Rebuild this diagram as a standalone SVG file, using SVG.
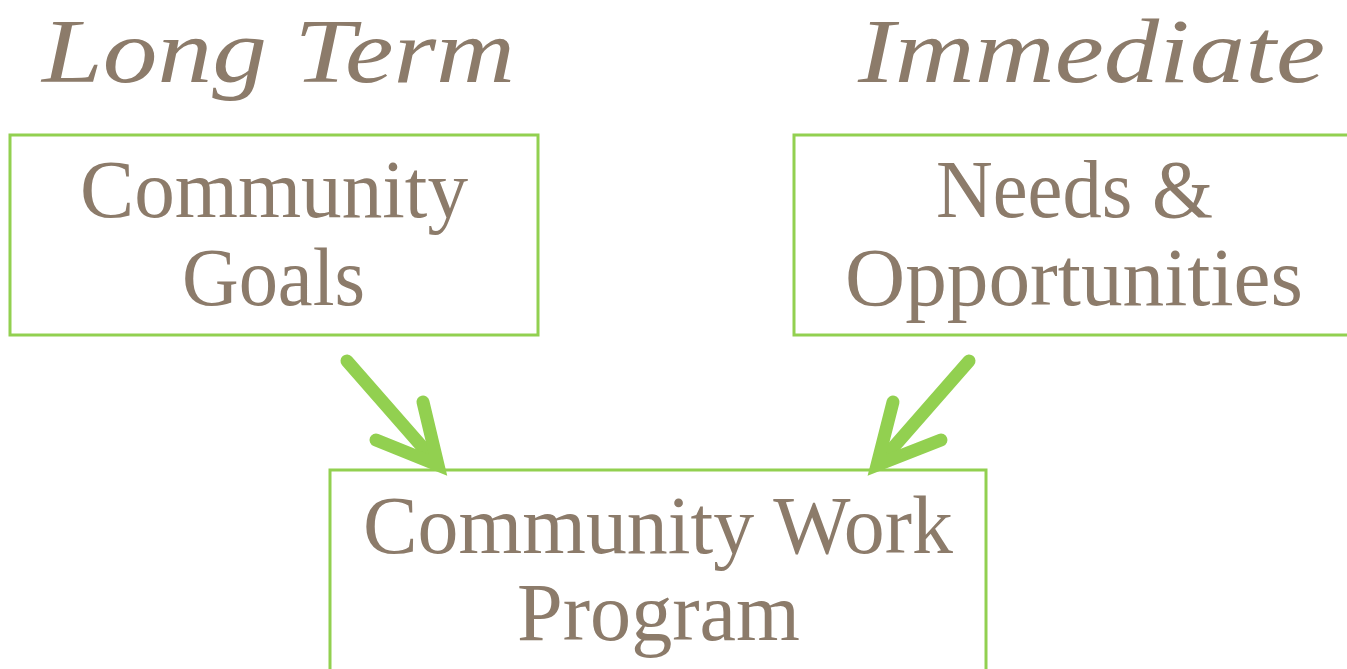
<svg xmlns="http://www.w3.org/2000/svg" width="1347" height="669" viewBox="0 0 1347 669">
<style>
.box{fill:none;stroke:#92D050;stroke-width:3}
.t{font-family:"Liberation Serif","Times New Roman",serif;font-size:82px;fill:#8C7B6A;text-anchor:middle}
.h{font-family:"Liberation Serif","Times New Roman",serif;font-style:italic;font-size:92px;fill:#8C7B6A;text-anchor:middle}
.arr{fill:none;stroke:#92D050;stroke-width:13;stroke-linecap:round;stroke-linejoin:miter}
</style>
<rect width="1347" height="669" fill="#ffffff"/>
<g id="label-long-term"><text class="h" x="278.5" y="82" textLength="473" lengthAdjust="spacingAndGlyphs">Long Term</text></g>
<g id="label-immediate"><text class="h" x="1091.5" y="82" textLength="467" lengthAdjust="spacingAndGlyphs">Immediate</text></g>
<g id="node-goals">
<rect class="box" x="10" y="135" width="528" height="200"/>
<text class="t" x="274" y="217" textLength="388" lengthAdjust="spacingAndGlyphs">Community</text>
<text class="t" x="273.5" y="305" textLength="183" lengthAdjust="spacingAndGlyphs">Goals</text>
</g>
<g id="node-needs">
<rect class="box" x="794" y="135" width="560" height="200"/>
<text class="t" x="1074.5" y="217" textLength="277" lengthAdjust="spacingAndGlyphs">Needs &amp;</text>
<text class="t" x="1074" y="305" textLength="458" lengthAdjust="spacingAndGlyphs">Opportunities</text>
</g>
<g id="node-program">
<rect class="box" x="330" y="470" width="656" height="210"/>
<text class="t" x="658" y="553" textLength="590" lengthAdjust="spacingAndGlyphs">Community Work</text>
<text class="t" x="658.5" y="640" textLength="283" lengthAdjust="spacingAndGlyphs">Program</text>
</g>
<g id="connectors">
<path class="arr" d="M347,361 L432,458"/>
<path class="arr" d="M376,440 L438,465 L423,402"/>
<path class="arr" d="M969,361 L884,458"/>
<path class="arr" d="M941,440 L877,465 L893,402"/>
</g>
</svg>
